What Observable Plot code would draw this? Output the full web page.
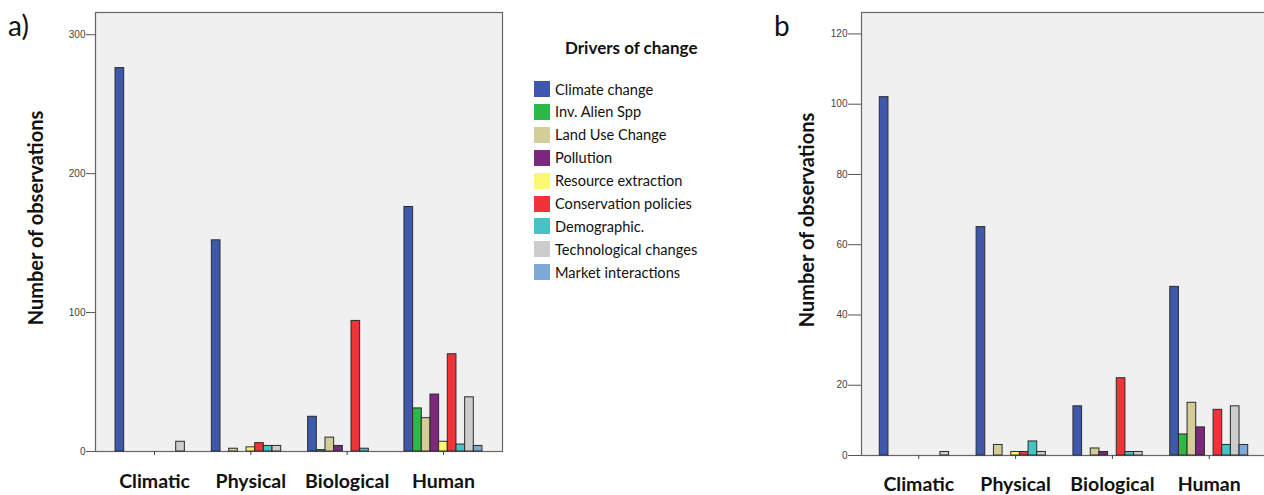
<!DOCTYPE html>
<html>
<head>
<meta charset="utf-8">
<script src="https://cdn.jsdelivr.net/npm/d3@7"></script>
<script src="https://cdn.jsdelivr.net/npm/@observablehq/plot@0.6"></script>
<style>
  html, body { margin: 0; padding: 0; background: #fff; overflow: hidden; }
  #root { position: relative; width: 1264px; height: 495px; overflow: hidden; font-family: Lato, "Open Sans", sans-serif; color: #111; }
  .panel { position: absolute; top: 0; height: 495px; }
  .panel svg { max-width: none !important; }
  .tag { position: absolute; font-size: 28px; line-height: 1; }
  .ytitle { position: absolute; transform: translate(-50%, -50%) rotate(-90deg); font-weight: bold; font-size: 20px; white-space: nowrap; line-height: 1; }
  #legend { position: absolute; left: 534px; top: 38px; }
  #legend .title { position: absolute; left: 31px; top: -1px; font-weight: bold; font-size: 17px; white-space: nowrap; }
  #legend .item { position: absolute; left: 0; height: 16px; display: flex; align-items: center; white-space: nowrap; font-size: 14.6px; }
  #legend .sw { width: 16px; height: 16px; margin-right: 5px; }
</style>
</head>
<body>
<div id="root">
  <div class="panel" id="panelA" style="left:0px; width:520px"></div>
  <div class="panel" id="panelB" style="left:760px; width:510px"></div>
  <div class="tag" style="left:8px; top:11px">a)</div>
  <div class="tag" style="left:774px; top:11px">b</div>
  <div class="ytitle" style="left:35px; top:218px">Number of observations</div>
  <div class="ytitle" style="left:806px; top:220px">Number of observations</div>
  <div id="legend"></div>
</div>
<script>
// Groups along the horizontal axis
const categories = ["Climatic", "Physical", "Biological", "Human"];

// Drivers of change (one bar each inside a group) and their fills
const drivers = [
  "Climate change", "Inv. Alien Spp", "Land Use Change", "Pollution",
  "Resource extraction", "Conservation policies", "Demographic.",
  "Technological changes", "Market interactions"
];
const driverColors = [
  "#3e58ac", "#2eb848", "#d3ce97", "#7c287d",
  "#fbf873", "#ef3338", "#48c2c5", "#cccccc", "#7aaad5"
];

// Panel a: number of observations, one row per group, one column per driver
const countsA = [
  [276, 0, 0, 0, 0, 0, 0, 7, 0],
  [152, 0, 2, 0, 3, 6, 4, 4, 0],
  [25, 1, 10, 4, 0, 94, 2, 0, 0],
  [176, 31, 24, 41, 7, 70, 5, 39, 4]
];

// Panel b: number of observations, same layout
const countsB = [
  [102, 0, 0, 0, 0, 0, 0, 1, 0],
  [65, 0, 3, 0, 1, 1, 4, 1, 0],
  [14, 0, 2, 1, 0, 22, 1, 1, 0],
  [48, 6, 15, 8, 0, 13, 3, 14, 3]
];

// Y-axis ticks and upper bounds
const ticksA = [0, 100, 200, 300];
const ticksB = [0, 20, 40, 60, 80, 100, 120];
const yMaxA = 316;
const yMaxB = 126.1;

const legendTitle = "Drivers of change";

function toRows(counts) {
  const rows = [];
  categories.forEach((category, i) => {
    drivers.forEach((driver, j) => {
      rows.push({category, driver, count: counts[i][j]});
    });
  });
  return rows;
}

function groupedBars({counts, yMax, yTicks, width, marginLeft, marginRight, marginBottom, padInner, padOuter, tickSize, labelPadding}) {
  const rows = toRows(counts).filter(d => d.count > 0);
  // Facets start after the fx outer padding; the frame and the y axis are
  // pushed back out by that amount so they sit on the full plot area.
  const step = (width - marginLeft - marginRight) / (categories.length - padInner + 2 * padOuter);
  const outer = padOuter * step;
  return Plot.plot({
    width,
    height: 495,
    marginTop: 12,
    marginLeft,
    marginRight,
    marginBottom,
    style: {fontFamily: "'Liberation Sans', Arial, sans-serif", fontSize: "10px", color: "#444", background: "transparent", overflow: "visible", maxWidth: "none"},
    fx: {domain: categories, paddingInner: padInner, paddingOuter: padOuter, round: false, label: null},
    x: {domain: drivers, padding: 0, round: false, axis: null},
    y: {domain: [0, yMax]},
    color: {domain: drivers, range: driverColors},
    marks: [
      Plot.frame({facet: "super", fill: "#f0f0f0", stroke: "#666", strokeWidth: 1.2, insetLeft: -outer, insetRight: -outer}),
      Plot.axisY({ticks: yTicks, tickSize, tickPadding: 1, label: null, dx: -outer, stroke: "#555", fill: "#444"}),
      Plot.axisFx({anchor: "bottom", tickSize: 4, tickPadding: labelPadding, label: null,
        fontSize: 19.5, fontWeight: "bold", fontFamily: "Lato, 'Open Sans', sans-serif", fill: "#111", stroke: "#444"}),
      Plot.barY(rows, {fx: "category", x: "driver", y: "count", fill: "driver", stroke: "#2b2b2b", strokeWidth: 1})
    ]
  });
}

document.getElementById("panelA").append(groupedBars({
  counts: countsA, yMax: yMaxA, yTicks: ticksA, width: 520,
  marginLeft: 95, marginRight: 18, marginBottom: 44,
  padInner: 0.19, padOuter: 0.208, tickSize: 9, labelPadding: 19
}));

document.getElementById("panelB").append(groupedBars({
  counts: countsB, yMax: yMaxB, yTicks: ticksB, width: 510,
  marginLeft: 101, marginRight: 4, marginBottom: 40,
  padInner: 0.195, padOuter: 0.189, tickSize: 13, labelPadding: 18
}));

// Legend
const legend = document.getElementById("legend");
const title = document.createElement("div");
title.className = "title";
title.textContent = legendTitle;
legend.append(title);
drivers.forEach((d, i) => {
  const item = document.createElement("div");
  item.className = "item";
  item.style.top = (43 + i * 22.9) + "px";
  const sw = document.createElement("div");
  sw.className = "sw";
  sw.style.background = driverColors[i];
  const label = document.createElement("span");
  label.textContent = d;
  item.append(sw, label);
  legend.append(item);
});
</script>
</body>
</html>
